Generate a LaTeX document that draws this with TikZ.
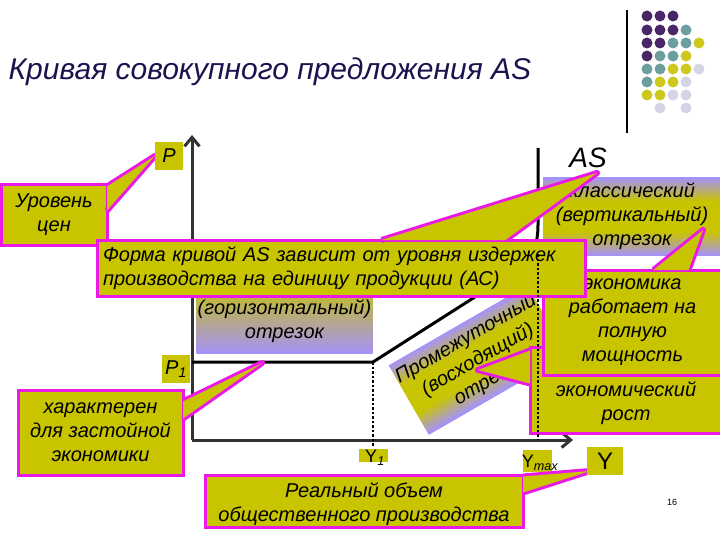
\documentclass[tikz,border=0pt]{standalone}
\usepackage{fontspec}
\setmainfont{Liberation Sans}
\usetikzlibrary{arrows.meta,calc,positioning}

\definecolor{olv}{RGB}{200,196,0}
\definecolor{mgn}{RGB}{235,25,230}
\definecolor{lav}{RGB}{166,146,246}
\definecolor{ink}{RGB}{28,18,78}
\definecolor{dpur}{RGB}{72,38,104}
\definecolor{dtea}{RGB}{108,158,160}
\definecolor{dyel}{RGB}{204,200,30}
\definecolor{dlgt}{RGB}{212,212,230}

\pgfdeclareverticalshading{band}{100bp}{color(0bp)=(lav); color(25bp)=(lav);
  color(40bp)=(olv); color(60bp)=(olv); color(75bp)=(lav); color(100bp)=(lav)}

\def\heavy{3pt}
\def\light{1.5pt}
\def\bodyfont{\itshape\fontsize{20}{24}\selectfont}

\tikzset{
  box/.style={rectangle, align=center, inner sep=0pt, font=\bodyfont},
  callout/.style={box, fill=olv, draw=mgn, line width=\heavy},
  grad/.style={box, shading=band},
  tag/.style={fill=olv, inner sep=0pt},
  ptredge/.style={draw=mgn, line width=6pt, line join=round},
  ptrbody/.style={fill=olv},
  axis/.style={draw=black!80, line width=\heavy, -{Straight Barb[length=9pt,width=15pt]}}
}

\begin{document}
\begin{tikzpicture}[x=1pt,y=-1pt]
\useasboundingbox (0,0) rectangle (720,540);

% title and corner
\node[anchor=west, text=ink, font=\itshape\fontsize{30}{34}\selectfont] (ttl) at (5,72) {Кривая совокупного предложения AS};
\draw[line width=\light] (627,10) -- (627,133);
\foreach \x/\y/\c in {647/16/dpur,660/16/dpur,673/16/dpur,
  647/30/dpur,660/30/dpur,673/30/dpur,686/30/dtea,
  647/43/dpur,660/43/dpur,673/43/dtea,686/43/dtea,699/43/dyel,
  647/56/dpur,660/56/dtea,673/56/dtea,686/56/dyel,
  647/69/dtea,660/69/dtea,673/69/dyel,686/69/dyel,699/69/dlgt,
  647/82/dtea,660/82/dyel,673/82/dyel,686/82/dlgt,
  647/95/dyel,660/95/dyel,673/95/dlgt,686/95/dlgt,
  660/108/dlgt,686/108/dlgt}
  \fill[\c] (\x,\y) circle (5.5);

% axes and AS
\coordinate (O) at (192,440);
\coordinate (k1) at (373,362);
\draw[axis] (O) -- (192,135);
\draw[axis] (O) -- (573,440);
\draw[line width=\heavy, line join=round] (192,362) -- (k1) -- (500,281)
  .. controls (530,262) and (538,250) .. (538,225) -- (538,148);

% segments
\node[box, top color=olv!85!lav, bottom color=lav, minimum width=176pt, minimum height=63pt] (hor) at (284.5,321.5) {(горизонтальный)\\отрезок};
\begin{scope}[shift={(478,360)}, rotate=30]
  \foreach \i in {0,...,39}{
    \pgfmathtruncatemacro\p{min(100,max(0,(1-abs(\i-19.5)/19.5)*170))}
    \fill[olv!\p!lav] (-80,-40+2*\i) rectangle (80,-37.8+2*\i);
  }
\end{scope}
\node[box, rotate=30] (mid) at (478,360) {Промежуточный\\(восходящий)\\отрезок};
\node[grad, minimum width=178pt, minimum height=77pt] (cls) at (632,216.5) {классический\\(вертикальный)\\отрезок};

% callouts
\coordinate (tipG) at (478,370);
\node[callout, minimum width=193pt, minimum height=86pt] (grw) at (626.5,390) {};
\draw[ptredge] ($(grw.north west)+(1.5,5)$) -- (tipG) -- ($(grw.north west)+(1.5,38)$);
\fill[ptrbody] ($(grw.north west)+(1.5,5)$) -- (tipG) -- ($(grw.north west)+(1.5,38)$) -- cycle;
\node[box] (grwtxt) at (626,403) {экономический\\рост};

\coordinate (tipF) at (703,230);
\node[callout, minimum width=179pt, minimum height=105pt] (full) at (632.5,322.5) {экономика\\работает на\\полную\\мощность};
\draw[ptredge] ($(full.north west)+(112,1.5)$) -- (tipF) -- ($(full.north west)+(147,1.5)$);
\fill[ptrbody] ($(full.north west)+(112,1.5)$) -- (tipF) -- ($(full.north west)+(147,1.5)$) -- cycle;

\node[callout, minimum width=106pt, minimum height=60pt] (lvl) at (54,215) {Уровень\\цен};
\node[tag, minimum size=28pt, font=\itshape\fontsize{20}{22}\selectfont] (pl) at (169,156) {P};
\draw[ptredge] ($(lvl.north east)+(-1.5,3)$) -- (pl.west) -- ($(lvl.north east)+(-1.5,27)$);
\fill[ptrbody] ($(lvl.north east)+(-1.5,3)$) -- (pl.west) -- ($(lvl.north east)+(-1.5,27)$) -- cycle;
\node[tag, minimum size=28pt, font=\itshape\fontsize{20}{22}\selectfont] (pl) at (169,156) {P};

\coordinate (tipA) at (597,173);
\node[callout, align=left, text width=476pt, inner xsep=6pt, minimum height=56pt] (frm) at (341,268) {Форма кривой AS зависит от уровня издержек\\производства на единицу продукции (АС)};
\draw[ptredge] ($(frm.north west)+(286,1.5)$) -- (tipA) -- ($(frm.north west)+(410,1.5)$);
\fill[ptrbody] ($(frm.north west)+(286,1.5)$) -- (tipA) -- ($(frm.north west)+(410,1.5)$) -- cycle;

\coordinate (tipS) at (262,363);
\node[callout, minimum width=165pt, minimum height=85pt] (stag) at (100.5,432.5) {характерен\\для застойной\\экономики};
\draw[ptredge] ($(stag.north east)+(-1.5,13)$) -- (tipS) -- ($(stag.north east)+(-1.5,30)$);
\fill[ptrbody] ($(stag.north east)+(-1.5,13)$) -- (tipS) -- ($(stag.north east)+(-1.5,30)$) -- cycle;

% axis labels
\fill[olv] (359,449) rectangle (388,462);
\node[font=\fontsize{18}{20}\selectfont] (yone) at (375,458) {Y\textsubscript{\itshape 1}};
\fill[olv] (523,450) rectangle (552,472);
\node[font=\fontsize{18}{20}\selectfont] (ymax) at (540,463) {Y\textsubscript{\itshape max}};

\coordinate (tipV) at (590,471);
\node[callout, minimum width=318pt, minimum height=52pt] (vol) at (364,501) {};
\draw[ptredge] ($(vol.north east)+(-1.5,3)$) -- (tipV) -- ($(vol.north east)+(-1.5,19)$);
\fill[ptrbody] ($(vol.north east)+(-1.5,3)$) -- (tipV) -- ($(vol.north east)+(-1.5,19)$) -- cycle;
\node[box] (voltxt) at (364,504) {Реальный объем\\общественного производства};

\node[tag, minimum size=28pt, font=\itshape\fontsize{20}{22}\selectfont] (pone) at (176,369) {P\textsubscript{1}};
\node[tag, minimum width=36pt, minimum height=28pt, font=\fontsize{24}{26}\selectfont] (ylab) at (605,461) {Y};
\node[font=\itshape\fontsize{28}{30}\selectfont] (aslab) at (588,158) {AS};
\node[font=\fontsize{9}{10}\selectfont] (pg) at (672,502) {16};

% dotted guides
\coordinate (y1) at (373,446);
\coordinate (km) at (538,254);
\coordinate (ym) at (538,440);
\draw[line width=2.5pt, dotted] (k1) -- (y1);
\draw[line width=2.5pt, dotted] (km) -- (ym);

\end{tikzpicture}
\end{document}
